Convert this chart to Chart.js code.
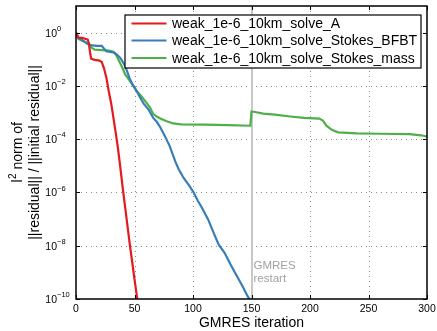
<!DOCTYPE html>
<html>
<head>
<meta charset="utf-8">
<script src="https://cdn.jsdelivr.net/npm/chart.js@4"></script>
<style>
  html, body { margin: 0; padding: 0; background: #fff; }
  canvas { display: block; }
</style>
</head>
<body>
<canvas id="residualChart" width="437" height="331"></canvas>
<script>
// Series names
const seriesNames = [
    'weak_1e-6_10km_solve_A',
    'weak_1e-6_10km_solve_Stokes_BFBT',
    'weak_1e-6_10km_solve_Stokes_mass'
];

// weak_1e-6_10km_solve_A
const iterA = [0, 2, 6, 10, 11, 12, 13, 16, 20, 22, 24, 26, 28, 30, 32, 34, 36, 38, 40, 42, 44, 46, 48, 50, 52, 54];
const residA = [1, 0.66, 0.62, 0.55, 0.4, 0.18, 0.105, 0.095, 0.089, 0.079, 0.045, 0.02, 6.3e-3, 2.3e-3, 6.3e-4, 1.7e-4, 4.1e-5, 7.9e-6, 1.4e-6, 2.8e-7, 5.6e-8, 1.1e-8, 2.5e-9, 5.6e-10, 1.3e-10, 3.2e-11];

// weak_1e-6_10km_solve_Stokes_BFBT
const iterBFBT = [0, 2, 6, 10, 14, 18, 22, 24, 26, 29, 32, 35, 38, 40, 42, 44, 46, 49, 52, 55, 58, 62, 66, 69, 72, 76, 80, 85, 88, 92, 96, 100, 104, 108, 113, 118, 122, 127, 132, 137, 142, 147, 149, 150];
const residBFBT = [1, 0.63, 0.5, 0.38, 0.33, 0.32, 0.32, 0.25, 0.2, 0.19, 0.18, 0.15, 0.11, 0.079, 0.056, 0.032, 0.018, 0.01, 6.3e-3, 3.5e-3, 2.1e-3, 1.3e-3, 6.3e-4, 4.5e-4, 2.8e-4, 1.3e-4, 5.6e-5, 1.4e-5, 7.1e-6, 3.5e-6, 2e-6, 1.1e-6, 5e-7, 2.5e-7, 9.5e-8, 2.8e-8, 1.1e-8, 5.4e-9, 2e-9, 7.9e-10, 3.2e-10, 1.2e-10, 9e-11, 7e-11];

// weak_1e-6_10km_solve_Stokes_mass
const iterMass = [0, 2, 5, 8, 11, 13, 16, 22, 28, 31, 33, 35, 37, 40, 42, 45, 49, 52, 56, 60, 63, 66, 69, 72, 77, 83, 90, 110, 130, 149, 150, 153, 160, 170, 183, 195, 208, 211, 214, 219, 224, 240, 260, 285, 295, 300];
const residMass = [1, 0.59, 0.5, 0.45, 0.35, 0.28, 0.23, 0.22, 0.21, 0.2, 0.18, 0.126, 0.083, 0.045, 0.027, 0.018, 0.01, 6.3e-3, 4e-3, 2.4e-3, 1.6e-3, 8.9e-4, 7.1e-4, 6e-4, 4.8e-4, 3.9e-4, 3.6e-4, 3.5e-4, 3.4e-4, 3.2e-4, 1.1e-3, 1.05e-3, 9.1e-4, 8.3e-4, 7.1e-4, 6.3e-4, 5.9e-4, 5e-4, 3.2e-4, 2.2e-4, 1.8e-4, 1.66e-4, 1.6e-4, 1.55e-4, 1.4e-4, 1.26e-4];

// Axis ticks
const xTicks = [0, 50, 100, 150, 200, 250, 300];
const yTickExps = [-10, -8, -6, -4, -2, 0];
const restartIter = 150;

const colors = ['#e41a1c', '#377eb8', '#4daf4a'];
const FONT = '"Liberation Sans", Arial, Helvetica, sans-serif';

function toPoints(xs, ys) {
    return xs.map((x, i) => ({ x: x, y: ys[i] }));
}

// Draws grid, restart marker, box, ticks, labels and legend (MATLAB look)
const matlabAxes = {
    id: 'matlabAxes',
    beforeDatasetsDraw(chart) {
        const ctx = chart.ctx;
        const a = chart.chartArea;
        const xs = chart.scales.x, ys = chart.scales.y;
        ctx.save();
        ctx.strokeStyle = '#8c8c8c';
        ctx.lineWidth = 1;
        ctx.setLineDash([1, 4]);
        xTicks.slice(1, -1).forEach(v => {
            const px = Math.round(xs.getPixelForValue(v)) + 0.5;
            ctx.beginPath(); ctx.moveTo(px, a.top); ctx.lineTo(px, a.bottom); ctx.stroke();
        });
        yTickExps.slice(1).forEach(e => {
            const py = Math.round(ys.getPixelForValue(Math.pow(10, e))) + 0.5;
            ctx.beginPath(); ctx.moveTo(a.left, py); ctx.lineTo(a.right, py); ctx.stroke();
        });
        ctx.setLineDash([]);
        // restart line
        const rx = xs.getPixelForValue(restartIter) + 0.5;
        ctx.strokeStyle = '#c8c8c8';
        ctx.lineWidth = 2;
        ctx.beginPath(); ctx.moveTo(rx, a.top); ctx.lineTo(rx, a.bottom); ctx.stroke();
        ctx.restore();
    },
    afterDatasetsDraw(chart) {
        const ctx = chart.ctx;
        const a = chart.chartArea;
        const xs = chart.scales.x, ys = chart.scales.y;
        ctx.save();

        // restart note
        ctx.fillStyle = '#a0a0a0';
        ctx.font = '11.5px ' + FONT;
        ctx.textAlign = 'left';
        ctx.textBaseline = 'middle';
        const rx = xs.getPixelForValue(restartIter);
        ctx.fillText('GMRES', rx + 2, 266);
        ctx.fillText('restart', rx + 2, 279);

        // box
        ctx.strokeStyle = '#000';
        ctx.lineWidth = 1.5;
        ctx.strokeRect(a.left, a.top, a.right - a.left, a.bottom - a.top);

        // tick marks
        ctx.lineWidth = 1;
        const tl = 4;
        xTicks.forEach(v => {
            const px = Math.round(xs.getPixelForValue(v)) + 0.5;
            ctx.beginPath();
            ctx.moveTo(px, a.bottom); ctx.lineTo(px, a.bottom - tl);
            ctx.moveTo(px, a.top); ctx.lineTo(px, a.top + tl);
            ctx.stroke();
        });
        yTickExps.forEach(e => {
            const py = Math.round(ys.getPixelForValue(Math.pow(10, e))) + 0.5;
            ctx.beginPath();
            ctx.moveTo(a.left, py); ctx.lineTo(a.left + tl, py);
            ctx.moveTo(a.right, py); ctx.lineTo(a.right - tl, py);
            ctx.stroke();
        });

        // x tick labels
        ctx.fillStyle = '#000';
        ctx.font = '10.5px ' + FONT;
        ctx.textAlign = 'center';
        ctx.textBaseline = 'middle';
        xTicks.forEach(v => {
            ctx.fillText(String(v), xs.getPixelForValue(v), 309);
        });

        // y tick labels 10^e
        yTickExps.forEach(e => {
            const py = ys.getPixelForValue(Math.pow(10, e));
            ctx.font = '10.5px ' + FONT;
            ctx.textAlign = 'right';
            ctx.fillText('10', 57, py + 1);
            ctx.font = '7.5px ' + FONT;
            ctx.textAlign = 'left';
            ctx.fillText(e === 0 ? '0' : '\u2212' + Math.abs(e), 57, py - 4);
        });

        // x title
        ctx.font = '14px ' + FONT;
        ctx.textAlign = 'center';
        ctx.textBaseline = 'alphabetic';
        ctx.fillText('GMRES iteration', (a.left + a.right) / 2, 327);

        // y title (two lines, rotated)
        const cy = (a.top + a.bottom) / 2;
        ctx.save();
        ctx.translate(0, cy);
        ctx.rotate(-Math.PI / 2);
        ctx.textAlign = 'left';
        ctx.font = '14px ' + FONT;
        const wl = ctx.measureText('l').width;
        const rest = ' norm of';
        const wr = ctx.measureText(rest).width;
        ctx.font = '10px ' + FONT;
        const w2 = ctx.measureText('2').width;
        const total = wl + w2 + wr;
        let x0 = -total / 2;
        ctx.font = '14px ' + FONT;
        ctx.fillText('l', x0, 22);
        ctx.font = '10px ' + FONT;
        ctx.fillText('2', x0 + wl + 0.5, 16);
        ctx.font = '14px ' + FONT;
        ctx.fillText(rest, x0 + wl + w2 + 0.5, 22);
        ctx.textAlign = 'center';
        ctx.fillText('||residual|| / ||initial residual||', 0, 39);
        ctx.restore();

        // legend
        const lx = 125, ly = 15, lw = 296, lh = 53;
        ctx.fillStyle = '#fff';
        ctx.fillRect(lx, ly, lw, lh);
        ctx.strokeStyle = '#000';
        ctx.lineWidth = 1.2;
        ctx.strokeRect(lx, ly, lw, lh);
        const rows = [23.5, 40.5, 58];
        ctx.font = '14px ' + FONT;
        ctx.textAlign = 'left';
        ctx.textBaseline = 'middle';
        seriesNames.forEach((name, i) => {
            ctx.strokeStyle = colors[i];
            ctx.lineWidth = 2.2;
            ctx.beginPath(); ctx.moveTo(131.5, rows[i]); ctx.lineTo(166.5, rows[i]); ctx.stroke();
            ctx.fillStyle = '#000';
            ctx.fillText(name, 172, rows[i] + 1);
        });
        ctx.restore();
    }
};

const residualChart = new Chart(document.getElementById('residualChart'), {
    type: 'line',
    data: {
        datasets: [
            { label: seriesNames[0], data: toPoints(iterA, residA), borderColor: colors[0] },
            { label: seriesNames[1], data: toPoints(iterBFBT, residBFBT), borderColor: colors[1] },
            { label: seriesNames[2], data: toPoints(iterMass, residMass), borderColor: colors[2] }
        ]
    },
    options: {
        responsive: false,
        animation: false,
        devicePixelRatio: 1,
        layout: { padding: { left: 76, right: 10, top: 6, bottom: 32 } },
        elements: {
            line: { borderWidth: 2.2, tension: 0, fill: false },
            point: { radius: 0, hoverRadius: 0 }
        },
        plugins: {
            legend: { display: false },
            tooltip: { enabled: false }
        },
        scales: {
            x: { type: 'linear', min: 0, max: 300, display: false },
            y: { type: 'logarithmic', min: 1e-10, max: 10, display: false }
        }
    },
    plugins: [matlabAxes]
});
</script>
</body>
</html>
